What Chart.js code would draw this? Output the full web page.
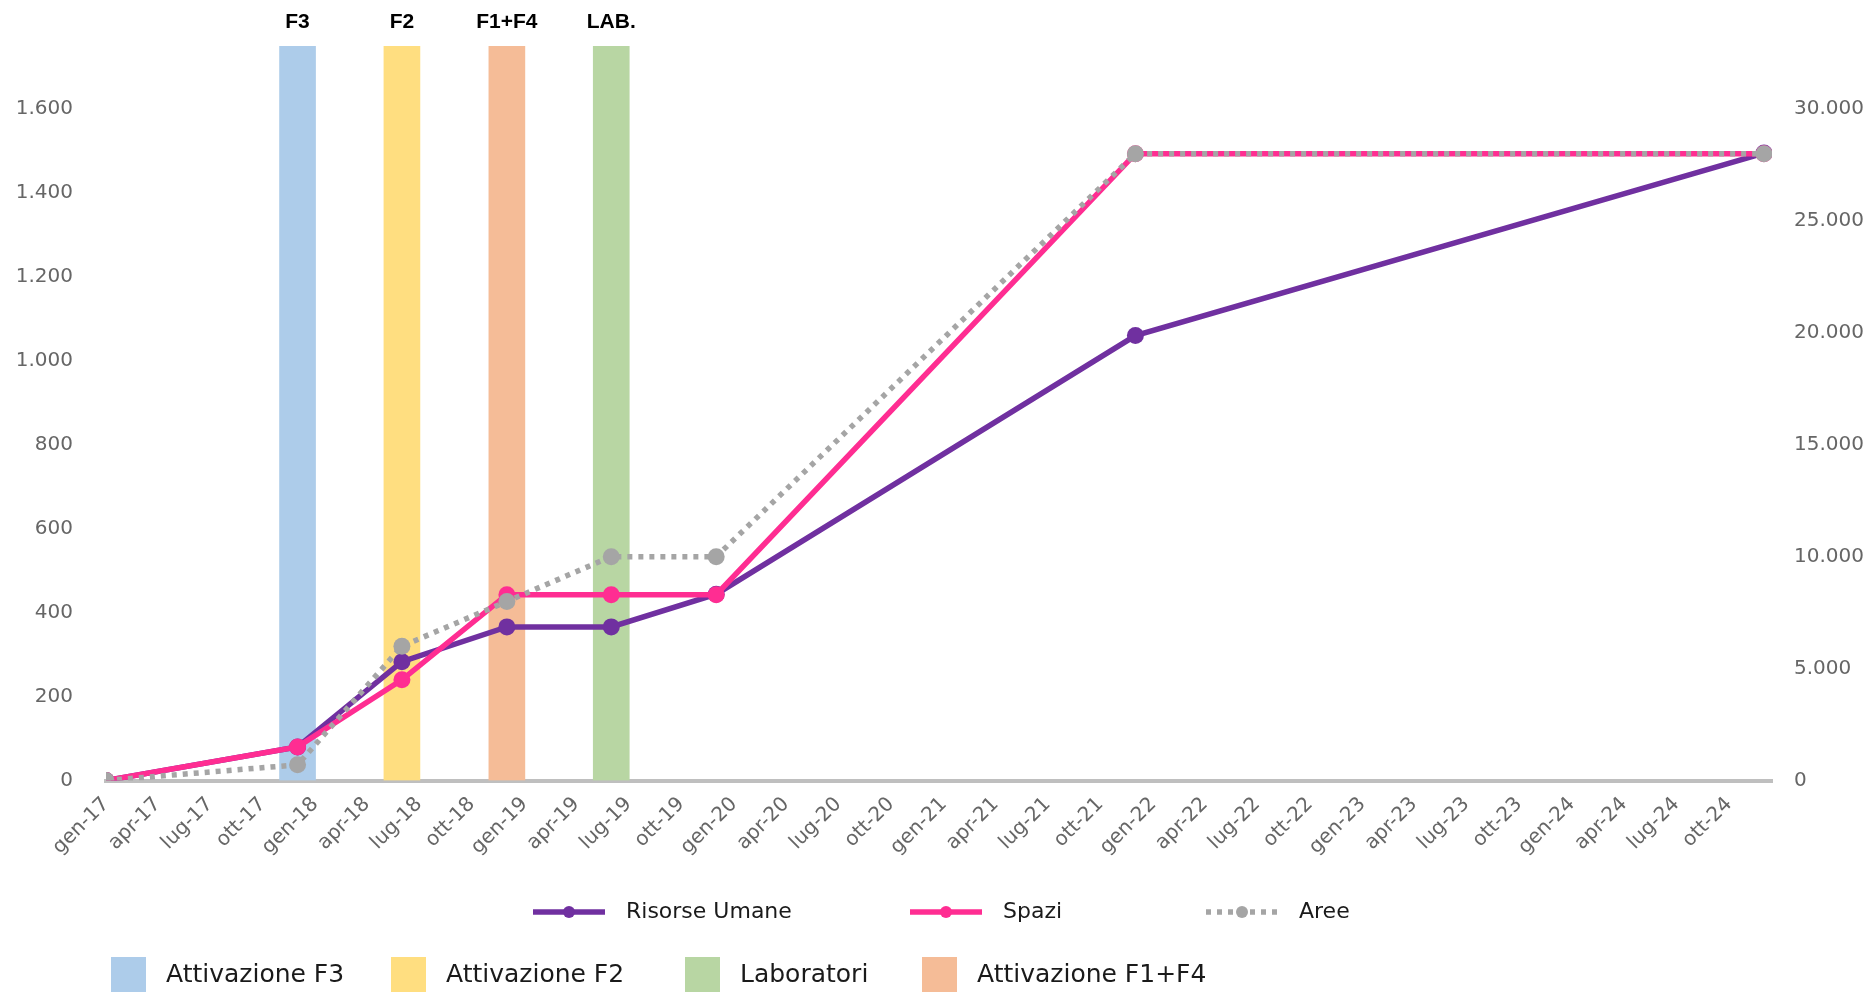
<!DOCTYPE html>
<html lang="it">
<head>
<meta charset="utf-8">
<title>Risorse Umane, Spazi, Aree</title>
<script src="https://cdn.jsdelivr.net/npm/chart.js@4.4.1/dist/chart.umd.min.js"></script>
<style>
  html, body { margin: 0; padding: 0; background: #fff; }
  #wrap { position: relative; width: 1875px; height: 992px; }
</style>
</head>
<body>
<div id="wrap"><canvas id="grafico"></canvas></div>
<script>
// etichette dell'asse x (una ogni tre mesi)
const tickLabels = [
    'gen-17', 'apr-17', 'lug-17', 'ott-17', 'gen-18', 'apr-18', 'lug-18', 'ott-18',
    'gen-19', 'apr-19', 'lug-19', 'ott-19', 'gen-20', 'apr-20', 'lug-20', 'ott-20',
    'gen-21', 'apr-21', 'lug-21', 'ott-21', 'gen-22', 'apr-22', 'lug-22', 'ott-22',
    'gen-23', 'apr-23', 'lug-23', 'ott-23', 'gen-24', 'apr-24', 'lug-24', 'ott-24'
];
const tickSinistra = [0, 200, 400, 600, 800, 1000, 1200, 1400, 1600];
const tickDestra = [0, 5000, 10000, 15000, 20000, 25000, 30000];

// date delle rilevazioni
const dateRilevazioni = ['2017-01-01', '2017-12-01', '2018-06-01', '2018-12-01',
    '2019-06-01', '2019-12-01', '2021-12-01', '2024-12-01'];

const risorseUmane = [0, 80, 283, 366, 366, 444, 1060, 1495];   // asse sinistro
const spazi = [0, 1500, 4500, 8300, 8300, 8300, 28000, 28000];  // asse destro
const aree = [0, 700, 6000, 8000, 10000, 10000, 28000, 28000];  // asse destro

// fasi (colonne verticali)
const fasiNomi = ['Attivazione F3', 'Attivazione F2', 'Laboratori', 'Attivazione F1+F4'];
const fasiSigle = ['F3', 'F2', 'LAB.', 'F1+F4'];
const fasiDate = ['2017-12-01', '2018-06-01', '2019-06-01', '2018-12-01'];
const fasiColori = ['#ADCCEA', '#FFDE80', '#B8D6A3', '#F5BC97'];

const inizioAsse = '2017-01-01';
const fineAsse = '2024-12-15';

const mesi = ['gen', 'feb', 'mar', 'apr', 'mag', 'giu', 'lug', 'ago', 'set', 'ott', 'nov', 'dic'];
const ORIGINE = Date.UTC(2017, 0, 1);

function giorno(s) {
    const [a, m, g] = s.split('-').map(Number);
    return (Date.UTC(a, m - 1, g) - ORIGINE) / 86400000;
}

function giornoEtichetta(lbl) {
    const [m, a] = lbl.split('-');
    return (Date.UTC(2000 + Number(a), mesi.indexOf(m), 1) - ORIGINE) / 86400000;
}

function migliaia(v) {
    return String(v).replace(/\B(?=(\d{3})+(?!\d))/g, '.');
}

const serie = (valori) => dateRilevazioni.map((d, i) => ({ x: giorno(d), y: valori[i] }));

const FONT = 'DejaVu Sans';
const GRIGIO_TESTO = '#666666';

function linea(label, valori, colore, asse, ordine, extra) {
    return Object.assign({
        type: 'line',
        label: label,
        data: serie(valori),
        yAxisID: asse,
        borderColor: colore,
        backgroundColor: colore,
        borderWidth: 5.5,
        pointRadius: 8.5,
        pointHoverRadius: 8.5,
        pointBorderWidth: 0,
        pointBackgroundColor: colore,
        tension: 0,
        fill: false,
        order: ordine
    }, extra || {});
}

const etichetteFasi = {
    id: 'etichetteFasi',
    afterDatasetsDraw(chart) {
        const ctx = chart.ctx;
        ctx.save();
        ctx.font = 'bold 21px "Liberation Sans"';
        ctx.fillStyle = '#000';
        ctx.textAlign = 'center';
        ctx.textBaseline = 'middle';
        chart.data.datasets.forEach((ds, i) => {
            if (ds.type !== 'bar') return;
            const bar = chart.getDatasetMeta(i).data[0];
            ctx.fillText(ds.sigla, bar.x, chart.chartArea.top - 24);
        });
        ctx.restore();
    }
};

// legenda su due righe: prima le linee, poi le fasi
const legendaRighe = {
    id: 'legendaRighe',
    afterDraw(chart, args, opts) {
        const ctx = chart.ctx;
        const linee = chart.data.datasets.filter(d => d.type === 'line');
        const fasi = chart.data.datasets.filter(d => d.type === 'bar');
        ctx.save();
        ctx.textBaseline = 'middle';
        ctx.textAlign = 'left';

        ctx.font = '22px "' + FONT + '"';
        linee.forEach((ds, i) => {
            const x = opts.linee.x[i];
            const y = opts.linee.y;
            ctx.strokeStyle = ds.borderColor;
            ctx.lineWidth = ds.borderWidth;
            ctx.setLineDash(ds.borderDash || []);
            ctx.lineCap = 'butt';
            ctx.beginPath();
            ctx.moveTo(x, y);
            ctx.lineTo(x + 72, y);
            ctx.stroke();
            ctx.setLineDash([]);
            ctx.fillStyle = ds.borderColor;
            ctx.beginPath();
            ctx.arc(x + 36, y, 6, 0, Math.PI * 2);
            ctx.fill();
            ctx.fillStyle = '#1a1a1a';
            ctx.fillText(ds.label, x + 93, y);
        });

        ctx.font = '25px "' + FONT + '"';
        fasi.forEach((ds, i) => {
            const x = opts.fasi.x[i];
            const y = opts.fasi.y;
            ctx.fillStyle = ds.backgroundColor;
            ctx.fillRect(x, y - 18, 35, 36);
            ctx.fillStyle = '#1a1a1a';
            ctx.fillText(ds.label, x + 55, y);
        });
        ctx.restore();
    }
};

const datasets = [
    linea('Risorse Umane', risorseUmane, '#7030A0', 'y', 3),
    linea('Spazi', spazi, '#FF2D92', 'y2', 2),
    linea('Aree', aree, '#A5A5A5', 'y2', 1, { borderDash: [5, 6], borderCapStyle: 'butt' })
];

fasiNomi.forEach((nome, i) => {
    datasets.push({
        type: 'bar',
        label: nome,
        sigla: fasiSigle[i],
        data: [{ x: giorno(fasiDate[i]), y: 1 }],
        yAxisID: 'yFasi',
        backgroundColor: fasiColori[i],
        borderWidth: 0,
        barThickness: 36,
        grouped: false,
        order: 5
    });
});

const fontTick = { family: FONT, size: 20 };

new Chart(document.getElementById('grafico'), {
    type: 'line',
    data: { datasets: datasets },
    plugins: [etichetteFasi, legendaRighe],
    options: {
        responsive: true,
        maintainAspectRatio: false,
        animation: false,
        layout: { padding: { top: 46, left: 0, right: 0, bottom: 0 } },
        plugins: {
            legend: { display: false },
            tooltip: { enabled: false },
            legendaRighe: {
                linee: { y: 912, x: [533, 910, 1206] },
                fasi: { y: 975, x: [111, 391, 685, 922] }
            }
        },
        scales: {
            x: {
                type: 'linear',
                min: giorno(inizioAsse),
                max: giorno(fineAsse),
                offset: false,
                grid: { display: false, drawTicks: false },
                border: { display: true, color: '#BFBFBF', width: 4 },
                afterBuildTicks: (s) => {
                    s.ticks = tickLabels.map(l => ({ value: giornoEtichetta(l) }));
                },
                afterFit: (s) => { s.height = 211.5; },
                ticks: {
                    autoSkip: false,
                    maxRotation: 45,
                    minRotation: 45,
                    padding: 12,
                    color: GRIGIO_TESTO,
                    font: fontTick,
                    callback: (v, i) => tickLabels[i]
                }
            },
            y: {
                position: 'left',
                min: 0,
                max: 1750,
                grid: { display: false, drawTicks: false },
                border: { display: false },
                afterBuildTicks: (s) => { s.ticks = tickSinistra.map(v => ({ value: v })); },
                afterFit: (s) => { s.width = 106; },
                ticks: {
                    padding: 33,
                    color: GRIGIO_TESTO,
                    font: fontTick,
                    callback: (v, i) => migliaia(tickSinistra[i])
                }
            },
            y2: {
                position: 'right',
                min: 0,
                max: 32812.5,
                grid: { display: false, drawTicks: false },
                border: { display: false },
                afterBuildTicks: (s) => { s.ticks = tickDestra.map(v => ({ value: v })); },
                afterFit: (s) => { s.width = 103; },
                ticks: {
                    padding: 22,
                    color: GRIGIO_TESTO,
                    font: fontTick,
                    callback: (v, i) => migliaia(tickDestra[i])
                }
            },
            yFasi: {
                display: false,
                min: 0,
                max: 1
            }
        }
    }
});
</script>
</body>
</html>
